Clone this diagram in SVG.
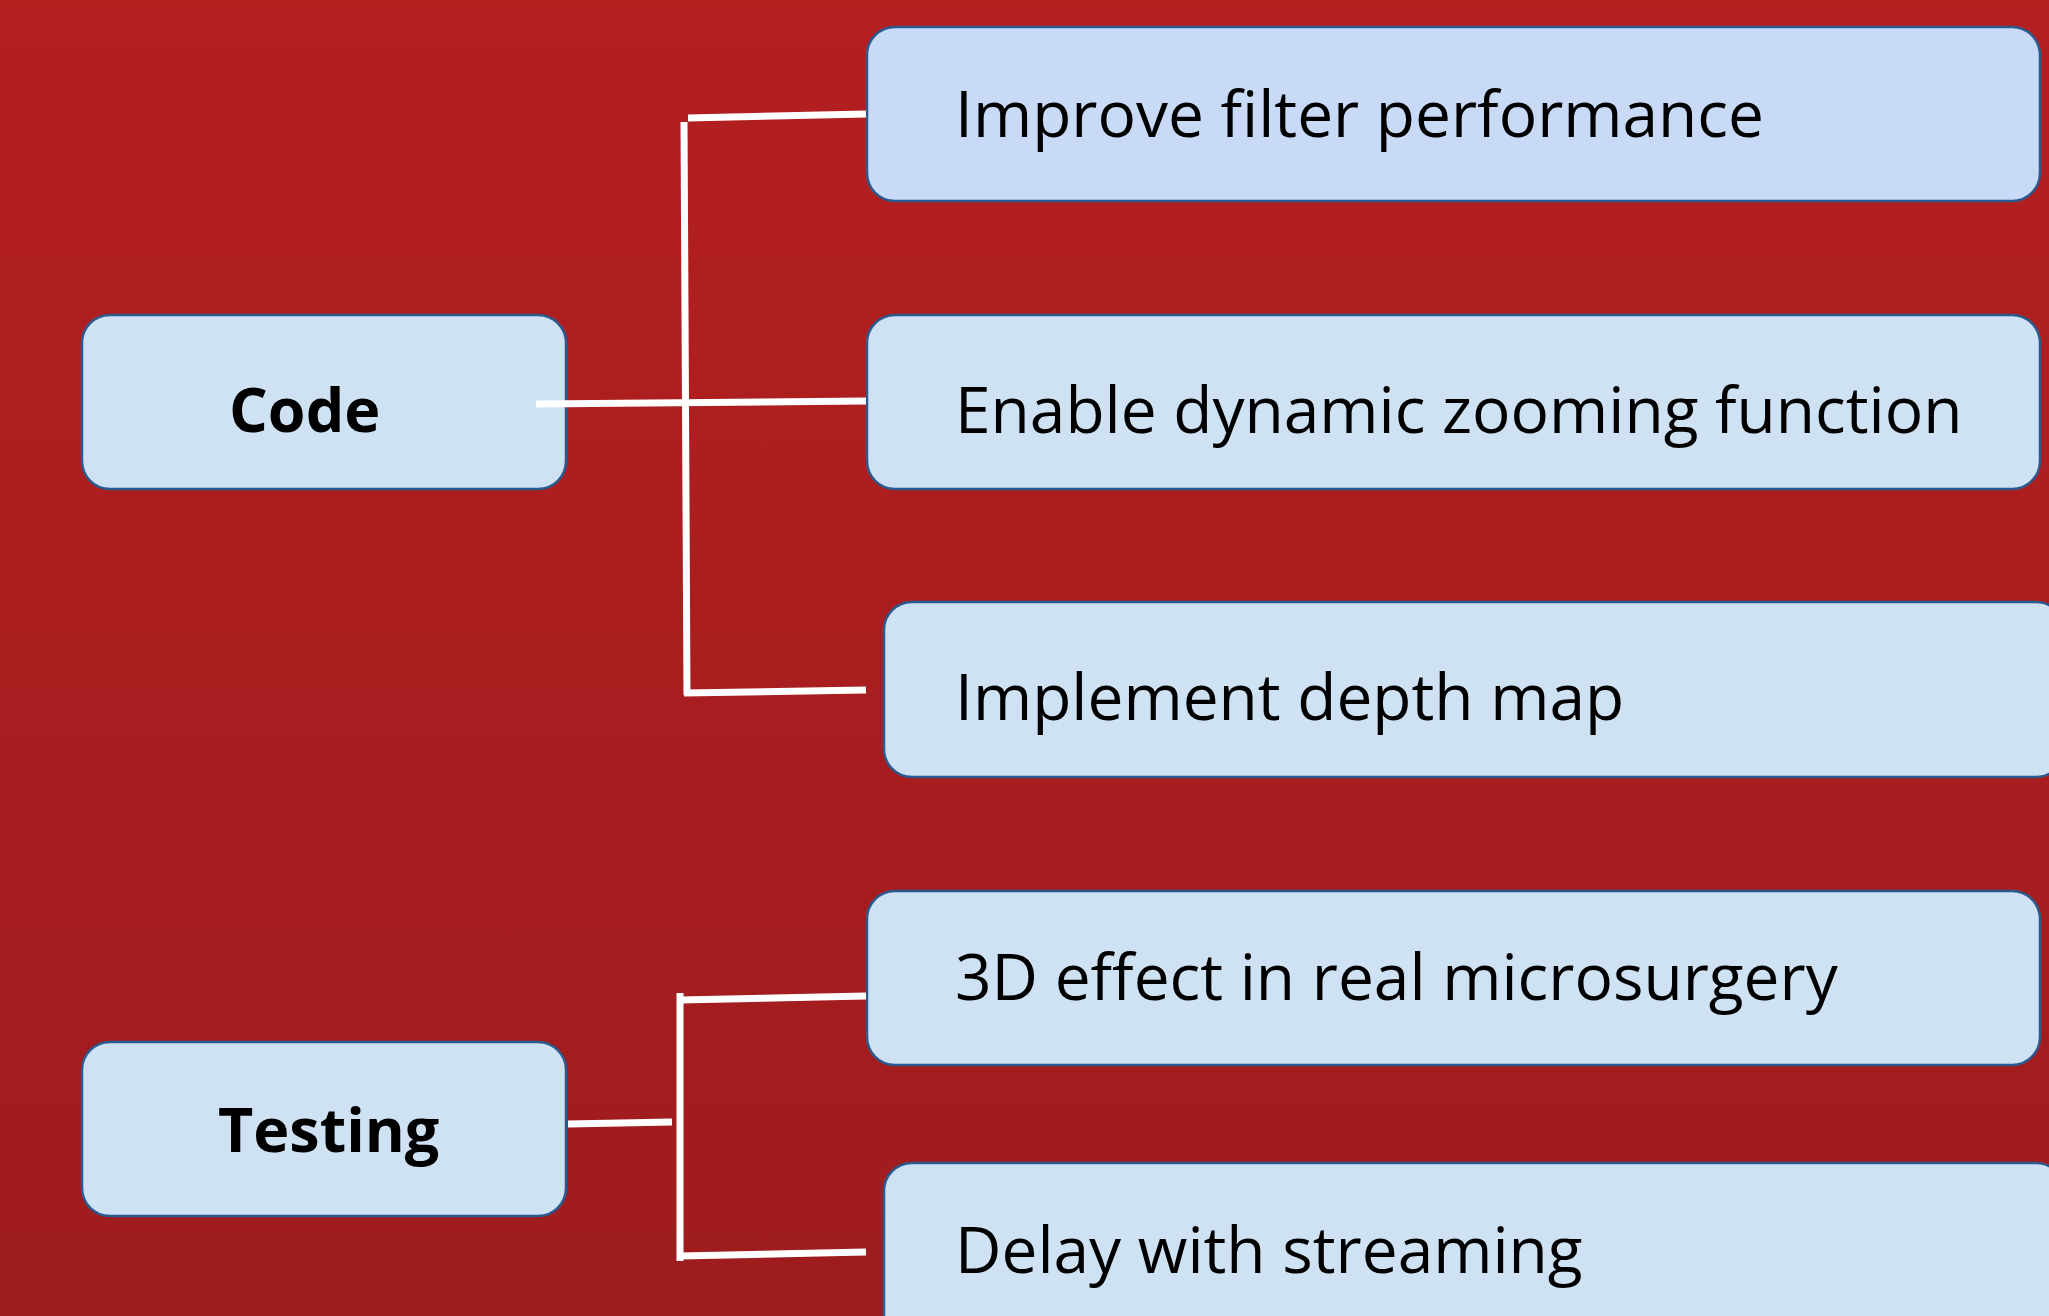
<svg xmlns="http://www.w3.org/2000/svg" width="2049" height="1316" viewBox="0 0 2049 1316">
<defs>
<linearGradient id="bg" x1="0" y1="0" x2="0" y2="1">
<stop offset="0" stop-color="#b41f20"/>
<stop offset="1" stop-color="#9e1c1e"/>
</linearGradient>
</defs>
<style>
.box{fill:#cfe2f3;stroke:#2a5a8e;stroke-width:2.5}
.box1{fill:#c9daf7;stroke:#2a5a8e;stroke-width:2.5}
.t{font-family:"Open Sans","Noto Sans",sans-serif;font-size:64px;fill:#000}
.b{font-family:"Open Sans","Noto Sans",sans-serif;font-size:61px;font-weight:bold;fill:#000}
.c{stroke:#fff;stroke-width:7;fill:none;stroke-linecap:butt}
</style>
<rect width="2049" height="1316" fill="url(#bg)"/>
<g id="code">
<rect class="box" x="82" y="315" width="484" height="174" rx="28"/>
<text class="b" x="229" y="432">Code</text>
</g>
<g id="testing">
<rect class="box" x="82" y="1042" width="484" height="174" rx="28"/>
<text class="b" x="218" y="1152">Testing</text>
</g>
<g id="improve">
<rect class="box1" x="867" y="27" width="1173" height="174" rx="28"/>
<text class="t" x="955" y="137">Improve filter performance</text>
</g>
<g id="enable">
<rect class="box" x="867" y="315" width="1173" height="174" rx="28"/>
<text class="t" x="955" y="433">Enable dynamic zooming function</text>
</g>
<g id="implement">
<rect class="box" x="884" y="602" width="1180" height="175" rx="28"/>
<text class="t" x="955" y="720">Implement depth map</text>
</g>
<g id="effect3d">
<rect class="box" x="867" y="891" width="1173" height="174" rx="28"/>
<text class="t" x="955" y="1000">3D effect in real microsurgery</text>
</g>
<g id="delay">
<rect class="box" x="884" y="1163" width="1180" height="200" rx="28"/>
<text class="t" x="955" y="1273">Delay with streaming</text>
</g>
<g id="connectors">
<line class="c" x1="536" y1="404" x2="866" y2="401"/>
<line class="c" x1="684" y1="122" x2="687" y2="695"/>
<line class="c" x1="688" y1="118" x2="866" y2="114"/>
<line class="c" x1="684" y1="693" x2="866" y2="690"/>
<line class="c" x1="568" y1="1124" x2="672" y2="1122"/>
<line class="c" x1="680" y1="993" x2="680" y2="1261"/>
<line class="c" x1="680" y1="1000" x2="866" y2="996"/>
<line class="c" x1="680" y1="1256" x2="866" y2="1252"/>
</g>
</svg>
